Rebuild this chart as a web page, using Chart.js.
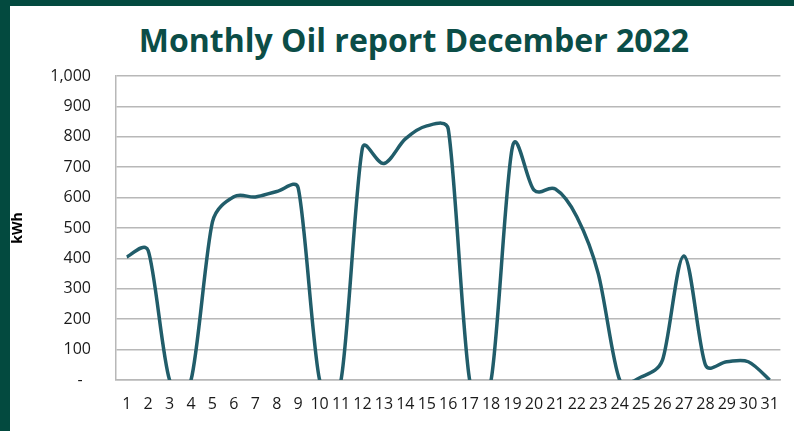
<!DOCTYPE html>
<html>
<head>
<meta charset="utf-8">
<script src="https://cdn.jsdelivr.net/npm/chart.js@4"></script>
<style>
  html, body { margin: 0; padding: 0; background: #fff; }
  .frame {
    position: relative;
    width: 794px;
    height: 431px;
    box-sizing: border-box;
    border-left: 10px solid #034a3f;
    border-top: 6px solid #034a3f;
    overflow: hidden;
  }
  .title {
    position: absolute;
    left: 0;
    width: 808px;
    top: 12px;
    text-align: center;
    font: bold 32px "Open Sans", sans-serif;
    color: #0b4d47;
    white-space: nowrap;
  }
  canvas { position: absolute; left: 0; top: 0; }
</style>
</head>
<body>
<div class="frame">
  <div class="title">Monthly Oil report December 2022</div>
  <canvas id="chart" width="784" height="425"></canvas>
</div>
<script>
// days of December
const days = ["1","2","3","4","5","6","7","8","9","10","11","12","13","14","15","16",
              "17","18","19","20","21","22","23","24","25","26","27","28","29","30","31"];
// kWh per day
const oilKwh = [405, 426, 0, 0, 520, 603, 602, 620, 632, 0, 0, 764, 712, 793, 836, 826,
                0, 0, 768, 625, 628, 537, 350, 0, 10, 66, 408, 50, 60, 60, 0];
const yTicks = [0, 100, 200, 300, 400, 500, 600, 700, 800, 900, 1000];

// Excel-like smoothing: Catmull-Rom tangent, each handle limited by its segment length
const excelSmooth = {
    id: "excelSmooth",
    beforeDatasetDraw(chart, args) {
        const line = args.meta.dataset;
        const pts = args.meta.data;
        const f = 0.45;
        line.updateControlPoints(chart.chartArea);
        for (let i = 0; i < pts.length; i++) {
            const p = pts[i];
            const prev = pts[i - 1] || p;
            const next = pts[i + 1] || p;
            const tx = (next.x - prev.x) / 6;
            const ty = (next.y - prev.y) / 6;
            const tl = Math.hypot(tx, ty) || 1;
            const dPrev = Math.hypot(p.x - prev.x, p.y - prev.y);
            const dNext = Math.hypot(next.x - p.x, next.y - p.y);
            const s1 = Math.min(tl, f * dPrev) / tl;
            const s2 = Math.min(tl, f * dNext) / tl;
            p.cp1x = p.x - tx * s1; p.cp1y = p.y - ty * s1;
            p.cp2x = p.x + tx * s2; p.cp2y = p.y + ty * s2;
        }
        line._path = undefined;
    }
};

const ctx = document.getElementById("chart").getContext("2d");
const chart = new Chart(ctx, {
    type: "line",
    data: {
        labels: days,
        datasets: [{
            label: "kWh",
            data: oilKwh,
            borderColor: "#215d6a",
            borderWidth: 3.5,
            pointRadius: 0,
            tension: 0.4,
            capBezierPoints: false,
            fill: false
        }]
    },
    options: {
        responsive: false,
        animation: false,
        layout: { padding: { top: 70, right: 9, left: 0, bottom: 0 } },
        plugins: {
            legend: { display: false },
            tooltip: { enabled: false }
        },
        scales: {
            x: {
                offset: true,
                grid: { display: false, drawTicks: false },
                border: { display: true, color: "#b8b8b8", width: 1.5 },
                ticks: {
                    autoSkip: false,
                    maxRotation: 0,
                    padding: 15,
                    color: "#1a1a1a",
                    font: { family: "Open Sans", size: 16 }
                },
                afterFit: (s) => { s.height = 51; }
            },
            y: {
                min: 0,
                max: 1000,
                afterBuildTicks: (s) => { s.ticks = yTicks.map(v => ({ value: v })); },
                grid: { color: "#b8b8b8", lineWidth: 1.5, drawTicks: false },
                border: { display: true, color: "#b8b8b8", width: 1.5 },
                ticks: {
                    padding: 25,
                    color: "#1a1a1a",
                    font: { family: "Open Sans", size: 16 },
                    callback: (v) => v === 0 ? "-  " : v.toLocaleString("en-US")
                },
                title: {
                    display: true,
                    text: "kWh",
                    color: "#000",
                    padding: { top: 0, bottom: 0 },
                    font: { family: "Open Sans", size: 14, weight: "bold" }
                },
                afterFit: (s) => { s.width = 106; }
            }
        }
    },
    plugins: [excelSmooth]
});
</script>
</body>
</html>
